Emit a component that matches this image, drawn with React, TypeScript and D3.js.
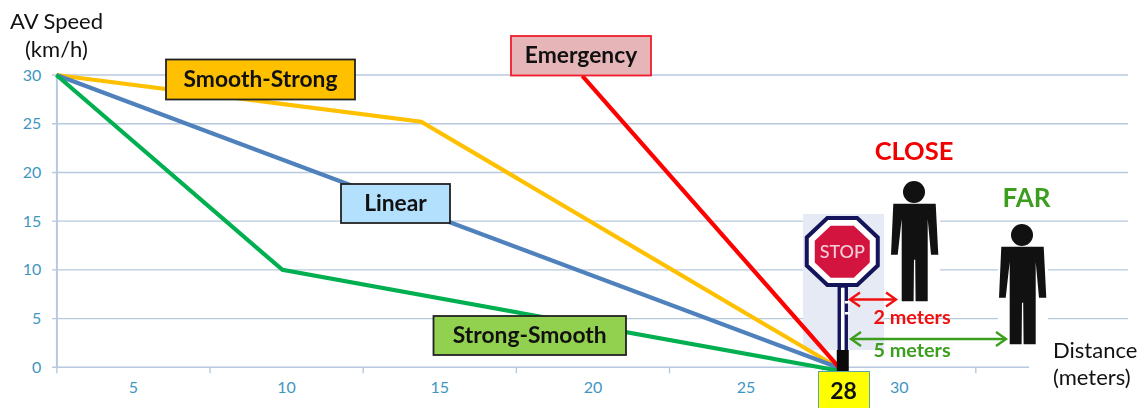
import * as d3 from 'd3'
import { useEffect, useRef } from 'react'

// values: [distance, speed]
const smoothStrong: [number, number][] = [[2.5, 30], [14.41, 25.2], [28, 0]]
const linear: [number, number][] = [[2.5, 30], [28, 0]]
const strongSmooth: [number, number][] = [[2.5, 30], [9.88, 10], [28.15, -0.4]]
const emergency: [number, number][] = [[19.67, 29.9], [28.05, 0]]

const speedTicks = [0, 5, 10, 15, 20, 25, 30]
const distanceLabels = [5, 10, 15, 20, 25, 30]
const distanceEdges = [2.5, 7.5, 12.5, 17.5, 22.5, 27.5, 32.5]
const stopAt = 28

const FONT = 'Lato, "Open Sans", sans-serif'
const TICK = '#3f97bf'
const GRID = '#b7c9de'
const GREEN = '#3c9e1e'

const octagon = (cx: number, cy: number, rx: number, ry: number) => {
  const kx = rx * 0.42
  const ky = ry * 0.42
  return `M${cx - kx},${cy - ry}L${cx + kx},${cy - ry}L${cx + rx},${cy - ky}L${cx + rx},${cy + ky}L${cx + kx},${cy + ry}L${cx - kx},${cy + ry}L${cx - rx},${cy + ky}L${cx - rx},${cy - ky}Z`
}

export default function App() {
  const ref = useRef<SVGSVGElement | null>(null)

  useEffect(() => {
    if (!ref.current) return
    const width = 1143
    const height = 408

    const svg = d3.select(ref.current)
    svg.selectAll('*').remove()
    const root = svg.append('g').style('filter', 'blur(0.5px)')

    root.append('rect').attr('width', width).attr('height', height).attr('fill', '#fff')

    const x = d3.scaleLinear().domain([2.5, 32.5]).range([56.4, 975.3])
    const y = d3.scaleLinear().domain([0, 30]).range([367.3, 75])

    // gridlines
    root.append('g')
      .selectAll('line')
      .data(speedTicks)
      .join('line')
      .attr('x1', 52)
      .attr('x2', d => (d === 0 ? 1029 : 1128))
      .attr('y1', d => y(d))
      .attr('y2', d => y(d))
      .attr('stroke', GRID)
      .attr('stroke-width', 1.4)

    // y axis
    const yAxis = root.append('g')
      .attr('transform', `translate(${x(2.5)},0)`)
      .call(d3.axisLeft(y).tickValues(speedTicks).tickSize(0).tickPadding(15) as any)
    yAxis.select('.domain').attr('stroke', GRID).attr('stroke-width', 2)
    yAxis.selectAll('text')
      .attr('fill', TICK).attr('font-family', FONT).attr('font-size', 16)

    // x axis, ticks sit between the labels
    const xTicks = root.append('g')
      .attr('transform', `translate(0,${y(0)})`)
      .call(d3.axisBottom(x).tickValues(distanceEdges).tickSize(6).tickFormat(() => '') as any)
    xTicks.select('.domain').remove()
    xTicks.selectAll('line').attr('stroke', GRID).attr('stroke-width', 1.4)

    const xLabels = root.append('g')
      .attr('transform', `translate(0,${y(0)})`)
      .call(d3.axisBottom(x).tickValues(distanceLabels).tickSize(0).tickPadding(14) as any)
    xLabels.select('.domain').remove()
    xLabels.selectAll('text')
      .attr('fill', TICK).attr('font-family', FONT).attr('font-size', 16)

    // panel behind the sign, white patches behind the people
    const signX = x(stopAt) + 5.3
    root.append('rect').attr('x', 803).attr('y', 214).attr('width', 81).attr('height', 136).attr('fill', '#e5eaf4')
    root.append('rect').attr('x', 884).attr('y', 178).attr('width', 56).attr('height', 128).attr('fill', '#fff')
    root.append('rect').attr('x', 998).attr('y', 223).attr('width', 50).attr('height', 123).attr('fill', '#fff')

    // speed profiles
    const line = d3.line<[number, number]>().x(d => x(d[0])).y(d => y(d[1]))
    const profiles: { pts: [number, number][]; color: string }[] = [
      { pts: smoothStrong, color: '#ffc000' },
      { pts: linear, color: '#4f81bd' },
      { pts: strongSmooth, color: '#00b050' },
      { pts: emergency, color: '#ff0000' },
    ]
    root.append('g')
      .selectAll('path')
      .data(profiles)
      .join('path')
      .attr('d', d => line(d.pts))
      .attr('fill', 'none')
      .attr('stroke', d => d.color)
      .attr('stroke-width', 4.2)

    // label boxes
    const boxes = [
      { text: 'Smooth-Strong', x: 166, y: 59.5, w: 189, h: 40, fill: '#ffc000', stroke: '#222' },
      { text: 'Emergency', x: 511, y: 36, w: 140, h: 39.5, fill: '#e6b5b7', stroke: '#f01c2c' },
      { text: 'Linear', x: 341, y: 184, w: 109, h: 39, fill: '#b3e0fd', stroke: '#222' },
      { text: 'Strong-Smooth', x: 433.5, y: 316, w: 192.5, h: 39, fill: '#92d050', stroke: '#222' },
    ]
    const box = root.append('g').selectAll('g').data(boxes).join('g')
    box.append('rect')
      .attr('x', d => d.x).attr('y', d => d.y).attr('width', d => d.w).attr('height', d => d.h)
      .attr('fill', d => d.fill).attr('stroke', d => d.stroke).attr('stroke-width', 1.8)
    box.append('text')
      .attr('x', d => d.x + d.w / 2).attr('y', d => d.y + d.h / 2 + 7.5)
      .attr('text-anchor', 'middle')
      .attr('font-family', FONT).attr('font-weight', 700).attr('font-size', 22.8)
      .attr('fill', '#111')
      .text(d => d.text)

    // stop sign
    const sign = root.append('g')
    sign.append('rect').attr('x', signX - 3.5).attr('y', 286).attr('width', 7).attr('height', 66)
      .attr('fill', '#fff').attr('stroke', '#14145a').attr('stroke-width', 3.4)
    sign.append('rect').attr('x', signX + 2).attr('y', 301).attr('width', 5).attr('height', 2.5).attr('fill', '#fff')
    sign.append('rect').attr('x', signX + 2).attr('y', 312).attr('width', 5).attr('height', 2.5).attr('fill', '#fff')
    sign.append('path').attr('d', octagon(signX - 0.5, 251.5, 35.5, 33.5))
      .attr('fill', '#fff').attr('stroke', '#14145a').attr('stroke-width', 4)
    sign.append('path').attr('d', octagon(signX - 0.5, 251.7, 27.5, 26)).attr('fill', '#d2143f')
    sign.append('text').attr('x', signX - 0.5).attr('y', 258).attr('text-anchor', 'middle')
      .attr('font-family', FONT).attr('font-weight', 500).attr('font-size', 18).attr('fill', '#f6cdd8').text('STOP')
    sign.append('rect').attr('x', signX - 6).attr('y', 350).attr('width', 12).attr('height', 21).attr('fill', '#0a0a0a')

    // stop position box
    root.append('rect').attr('x', 818.5).attr('y', 371.5).attr('width', 51).attr('height', 38)
      .attr('fill', '#ffff00').attr('stroke', '#5aa5a5').attr('stroke-width', 1)
    root.append('text').attr('x', 843.5).attr('y', 398.5).attr('text-anchor', 'middle')
      .attr('font-family', FONT).attr('font-weight', 700).attr('font-size', 23).attr('fill', '#111').text(stopAt)

    // people
    const person = 'M-20.7,11.7L21.7,11.7L24.3,62.7L17,62.7L13.7,27L13.7,109.3L1.6,109.3L1.2,67.7L0,67.7L-0.4,109.3L-12.3,109.3L-12.3,27L-16.3,62.7L-23,62.7Z'
    const people = [{ cx: 914, cy: 192 }, { cx: 1022, cy: 235 }]
    const ppl = root.append('g').selectAll('g').data(people).join('g')
      .attr('transform', d => `translate(${d.cx},${d.cy})`)
    ppl.append('circle').attr('r', 11).attr('fill', '#111')
    ppl.append('path').attr('d', person).attr('fill', '#111')

    // distance arrows
    const arrow = (x1: number, x2: number, yy: number, color: string) => {
      const g = root.append('g').attr('fill', 'none').attr('stroke', color).attr('stroke-width', 2.4)
      g.append('path').attr('d', `M${x1},${yy}L${x2},${yy}`)
      g.append('path').attr('d', `M${x1 + 10},${yy - 7}L${x1},${yy}L${x1 + 10},${yy + 7}`)
      g.append('path').attr('d', `M${x2 - 10},${yy - 7}L${x2},${yy}L${x2 - 10},${yy + 7}`)
    }
    arrow(850, 896, 299.5, '#f01010')
    arrow(851, 1006, 339, GREEN)

    // free text
    const notes = [
      { t: 'CLOSE', x: 914, y: 160, size: 25.5, weight: 700, color: '#f00000', anchor: 'middle' },
      { t: 'FAR', x: 1026.5, y: 207, size: 26, weight: 700, color: GREEN, anchor: 'middle' },
      { t: '2 meters', x: 912, y: 324, size: 19.8, weight: 700, color: '#f01010', anchor: 'middle' },
      { t: '5 meters', x: 912, y: 357, size: 19.8, weight: 700, color: GREEN, anchor: 'middle' },
      { t: 'Distance', x: 1053, y: 358, size: 22, weight: 400, color: '#111', anchor: 'start' },
      { t: '(meters)', x: 1053, y: 385, size: 22, weight: 400, color: '#111', anchor: 'start' },
      { t: 'AV Speed', x: 10, y: 29, size: 22, weight: 400, color: '#111', anchor: 'start' },
      { t: '(km/h)', x: 25, y: 57, size: 22, weight: 400, color: '#111', anchor: 'start' },
    ]
    root.append('g')
      .selectAll('text')
      .data(notes)
      .join('text')
      .attr('x', d => d.x).attr('y', d => d.y)
      .attr('text-anchor', d => d.anchor)
      .attr('font-family', FONT)
      .attr('font-size', d => d.size)
      .attr('font-weight', d => d.weight)
      .attr('fill', d => d.color)
      .text(d => d.t)
  }, [])

  return <svg ref={ref} width={1143} height={408} style={{ position: 'absolute', left: 0, top: 0, display: 'block' }} />
}
